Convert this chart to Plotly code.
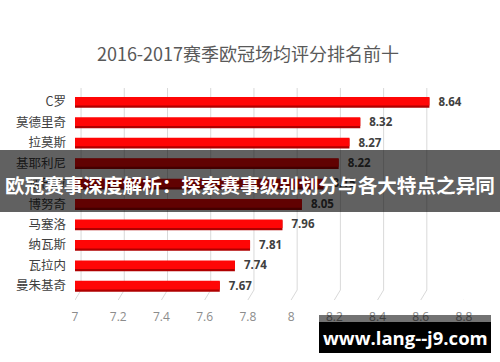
import plotly.graph_objects as go

title_text = "2016-2017赛季欧冠场均评分排名前十"
players = ["C罗", "莫德里奇", "拉莫斯", "基耶利尼", "迪巴拉", "博努奇", "马塞洛", "纳瓦斯", "瓦拉内", "曼朱基奇"]
ratings = [8.64, 8.32, 8.27, 8.22, 8.15, 8.05, 7.96, 7.81, 7.74, 7.67]
x_ticks = [7, 7.2, 7.4, 7.6, 7.8, 8, 8.2, 8.4, 8.6, 8.8]
x_tick_labels = ["7", "7.2", "7.4", "7.6", "7.8", "8", "8.2", "8.4", "8.6", "8.8"]
banner_text = "欧冠赛事深度解析：探索赛事级别划分与各大特点之异同"
watermark_text = "www.lang--j9.com"

CJK = "Noto Sans CJK SC, Open Sans, sans-serif"
W, H = 500, 362
ML, MR, MT, MB = 75, 36, 88, 62
plot_h = H - MT - MB

fig = go.Figure()

# perspective gridlines (back plane offset, slanted foot)
depth = 0.028
foot = 10 / plot_h
for t in x_ticks:
    fig.add_shape(type="line", xref="x", yref="paper", x0=t + depth, x1=t + depth,
                  y0=1, y1=foot, line=dict(color="#d9d9d9", width=1), layer="below")
    fig.add_shape(type="line", xref="x", yref="paper", x0=t + depth, x1=t,
                  y0=foot, y1=0, line=dict(color="#d9d9d9", width=1), layer="below")

# bar "shadow" for 3D bottom edge
fig.add_trace(go.Bar(
    y=players, x=[r - 7 for r in ratings], base=7, orientation="h",
    width=0.5, marker=dict(color="#b00000", line=dict(width=0)),
    hoverinfo="skip", showlegend=False, offset=-0.22,
))
fig.add_trace(go.Bar(
    y=players, x=[r - 7 for r in ratings], base=7, orientation="h",
    width=0.42, offset=-0.25,
    marker=dict(color="#ff0606", line=dict(width=0)),
    text=[f"  {r:.2f}" for r in ratings], textposition="outside", constraintext="none",
    textfont=dict(family="Open Sans, sans-serif", size=11.5, color="#404040", weight="bold"),
    cliponaxis=False, showlegend=False,
))

fig.update_layout(
    width=W, height=H,
    margin=dict(l=ML, r=MR, t=MT, b=MB),
    paper_bgcolor="white", plot_bgcolor="white",
    barmode="overlay",
    title=dict(text=title_text, x=0.496, xanchor="center", y=1 - 55 / H, yanchor="middle",
               font=dict(family=CJK, size=18, color="#595959")),
    xaxis=dict(range=[7, 8.8], tickvals=x_ticks, ticktext=x_tick_labels,
               showgrid=False, zeroline=False, showline=False, ticks="",
               ticklabelstandoff=8,
               tickfont=dict(family="Open Sans, sans-serif", size=12, color="#8c8c8c")),
    yaxis=dict(type="category", categoryorder="array", categoryarray=players,
               range=[9.687, -0.685], showgrid=False, zeroline=False, showline=False,
               ticks="", ticklabelstandoff=8,
               tickfont=dict(family=CJK, size=12.5, color="#404040")),
    font=dict(family=CJK),
)

# dark banner overlay
fig.add_shape(type="rect", xref="paper", yref="paper", x0=-ML / (W - ML - MR), x1=1 + MR / (W - ML - MR),
              y0=(H - 212 - MB) / plot_h, y1=(H - 150 - MB) / plot_h,
              fillcolor="rgba(0,0,0,0.62)", line=dict(width=0), layer="above")
fig.add_annotation(text=banner_text, xref="paper", yref="paper",
                   x=(250 - ML) / (W - ML - MR), y=(H - 184 - MB) / plot_h,
                   showarrow=False, xanchor="center", yanchor="middle",
                   font=dict(family=CJK, size=19.6, color="white", weight="bold"))

# watermark box
fx = lambda px: (px - ML) / (W - ML - MR)
fy = lambda py: (H - py - MB) / plot_h
fig.add_shape(type="rect", xref="paper", yref="paper", x0=fx(319), x1=fx(491), y0=fy(322), y1=fy(315),
              fillcolor="rgba(0,0,0,0.55)", line=dict(width=0), layer="above")
fig.add_shape(type="rect", xref="paper", yref="paper", x0=fx(319), x1=fx(491), y0=fy(353), y1=fy(322),
              fillcolor="black", line=dict(width=0), layer="above")
fig.add_annotation(text=watermark_text, xref="paper", yref="paper", x=fx(405), y=fy(337),
                   showarrow=False, xanchor="center", yanchor="middle",
                   font=dict(family="Open Sans, sans-serif", size=18.5, color="white", weight="bold"))

fig.write_html("out.html")
